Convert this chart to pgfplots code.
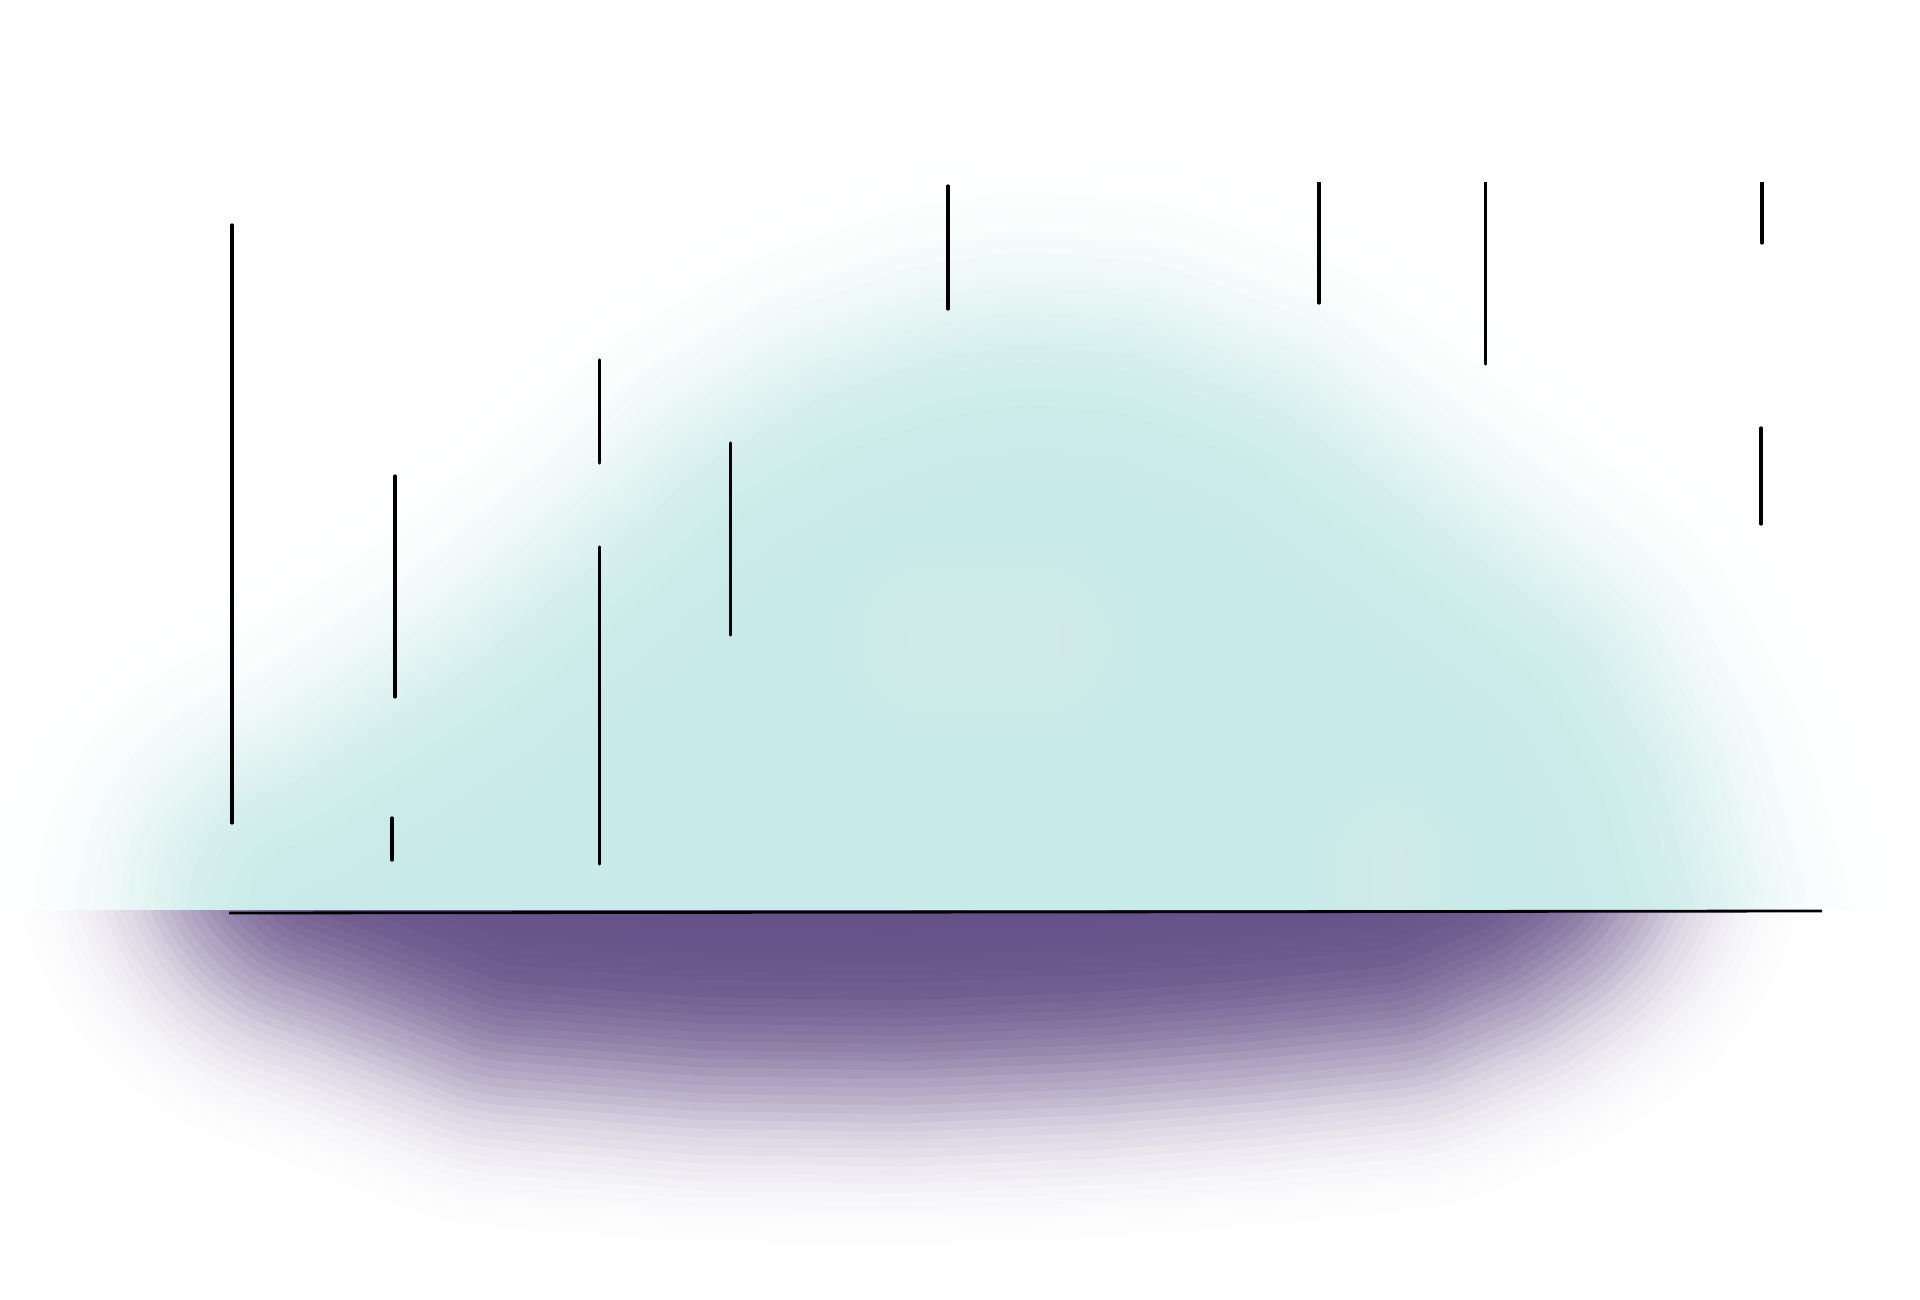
\documentclass[border=0pt]{standalone}
\usepackage{pgfplots}
\pgfplotsset{compat=1.18}
\definecolor{tealc}{RGB}{200,234,232}
\definecolor{tealL}{RGB}{211,238,236}
\definecolor{purp}{RGB}{99,78,134}
\tikzset{
  bl/.code args={#1/#2/#3}{\pgfmathsetlengthmacro\blw{#3}%
    \edef\blnext{\noexpand\tikzset{preaction={draw=#1,draw opacity=#2,line width=\blw,line join=round,line cap=round}}}\blnext},
  softblur/.style 2 args={
    bl=#1/0.2874/#2*1,  bl=#1/0.2774/#2*2,  bl=#1/0.2671/#2*3,  bl=#1/0.2566/#2*4,
    bl=#1/0.2466/#2*5,  bl=#1/0.2359/#2*6,  bl=#1/0.2258/#2*7,  bl=#1/0.2152/#2*8,
    bl=#1/0.2048/#2*9,  bl=#1/0.1943/#2*10, bl=#1/0.1840/#2*11, bl=#1/0.1736/#2*12,
    bl=#1/0.1633/#2*13, bl=#1/0.1531/#2*14, bl=#1/0.1429/#2*15, bl=#1/0.1329/#2*16,
    bl=#1/0.1231/#2*17, bl=#1/0.1135/#2*18, bl=#1/0.1041/#2*19, bl=#1/0.0949/#2*20,
    bl=#1/0.0861/#2*21, bl=#1/0.0776/#2*22, bl=#1/0.0694/#2*23, bl=#1/0.0617/#2*24,
    bl=#1/0.0544/#2*25, bl=#1/0.0475/#2*26, bl=#1/0.0412/#2*27, bl=#1/0.0353/#2*28,
    bl=#1/0.0300/#2*29, bl=#1/0.0252/#2*30, bl=#1/0.0210/#2*31, bl=#1/0.0172/#2*32,
    bl=#1/0.0140/#2*33, bl=#1/0.0112/#2*34, bl=#1/0.0089/#2*35, bl=#1/0.0069/#2*36,
    bl=#1/0.0053/#2*37, bl=#1/0.0040/#2*38, bl=#1/0.0030/#2*39, bl=#1/0.0030/#2*40},
}
\pgfplotsset{every axis/.append style={scale only axis, axis lines=none, xmin=0, xmax=1920,
  y dir=reverse, xtick=\empty, ytick=\empty, width=192mm}}
\begin{document}
\begin{tikzpicture}
% teal area above the baseline
\begin{axis}[at={(0,129.9mm)}, anchor=north west, height=91mm, ymin=0, ymax=910]
\addplot[draw=none, fill=tealc, softblur={tealc}{1.7mm}] coordinates {
(315,1200) (315,910) (356,894) (546,769) (691,649) (780,568) (872,514) (962,483) (1027,473)
(1109,480) (1218,521) (1337,610) (1491,728) (1539,818) (1571,935) (1571,1200)} --cycle;
\addplot[draw=none, softblur={tealL}{0.9mm}] coordinates {
(930,640) (1040,640)};
\addplot[draw=none, softblur={tealL}{0.7mm}] coordinates {
(1390,860) (1390,1000)};
\end{axis}
% purple area below the baseline
\begin{axis}[at={(0,0)}, anchor=south west, height=38.9mm, ymin=910, ymax=1299]
\addplot[draw=none, fill=purp, softblur={purp}{1.75mm}] coordinates {
(345,500) (345,830) (389,845) (521,896) (709,910) (900,913) (1090,905) (1234,894)
(1375,880) (1445,850) (1475,830) (1475,500)} --cycle;
\end{axis}
% range lines and baseline
\begin{axis}[at={(0,0)}, anchor=south west, height=111.6mm, ymin=183, ymax=1299]
\addplot[black, line width=0.28mm] coordinates {(229,913) (1822,911)};
\addplot[black, line width=0.32mm, line cap=round] coordinates {(232,225) (232,823)};
\addplot[black, line width=0.32mm, line cap=round] coordinates {(395,476) (395,697)};
\addplot[black, line width=0.32mm, line cap=round] coordinates {(392,818) (392,860)};
\addplot[black, line width=0.32mm, line cap=round] coordinates {(599.5,360) (599.5,463)};
\addplot[black, line width=0.32mm, line cap=round] coordinates {(599.5,547) (599.5,864)};
\addplot[black, line width=0.32mm, line cap=round] coordinates {(730.6,443) (730.6,635)};
\addplot[black, line width=0.32mm, line cap=round] coordinates {(948,186) (948,309)};
\addplot[black, line width=0.32mm, line cap=round] coordinates {(1319,170) (1319,303)};
\addplot[black, line width=0.32mm, line cap=round] coordinates {(1485.4,170) (1485.4,364)};
\addplot[black, line width=0.32mm, line cap=round] coordinates {(1762,170) (1762,243)};
\addplot[black, line width=0.32mm, line cap=round] coordinates {(1761,428) (1761,524)};
\end{axis}
\pgfresetboundingbox
\path[use as bounding box] (0,0) rectangle (192mm,129.9mm);
\end{tikzpicture}
\end{document}
